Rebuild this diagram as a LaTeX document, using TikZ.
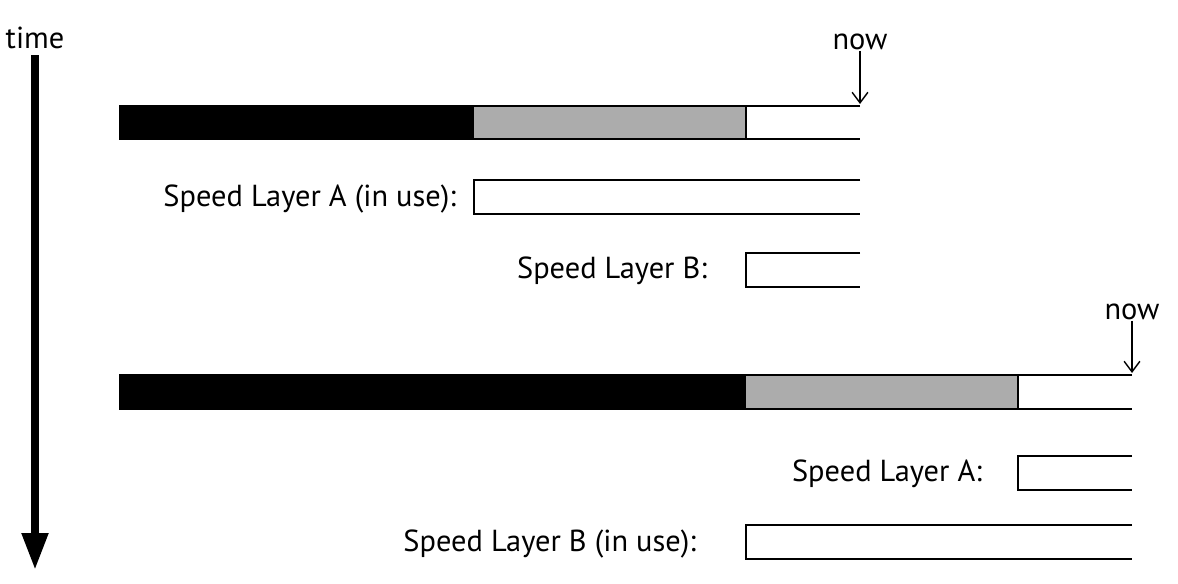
\documentclass[tikz,border=0pt]{standalone}
\usepackage{fontspec}
\setmainfont{PT Sans}
\usepackage{tikz}
\usetikzlibrary{arrows.meta, positioning}
\usepackage{xcolor}
\definecolor{batchgray}{RGB}{172,172,172}

\begin{document}
\begin{tikzpicture}[x=0.02cm, y=-0.02cm, line width=1.1pt,
    lbl/.style={font=\fontsize{17.3}{20}\selectfont, inner sep=0pt},
    nowarrow/.style={line width=0.8pt, -{Straight Barb[length=6pt, width=9pt]}}]
        \useasboundingbox (0,0) rectangle (1178,584);

        % --- Axe du temps ---
        \node[lbl] (time) at (35,38) {time};
        \coordinate (tend) at (35,570);
        \draw[line width=4.5pt, shorten <=3pt, -{Triangle[length=0.74cm, width=0.5cm]}] (time) -- (tend);

        % --- Etat 1 ---
        \fill[black] (120,106) rectangle (474,139);
        \fill[batchgray] (474,106) rectangle (746,139);
        \draw (860,106) -- (120,106) -- (120,139) -- (860,139);
        \draw (746,106) -- (746,139);

        \node[lbl] (now1) at (860,42) {now};
        \coordinate (now1end) at (860,104);
        \draw[nowarrow] (now1) -- (now1end);

        \node[lbl, anchor=east] (slA1) at (457,199) {Speed Layer A (in use):};
        \node[lbl, anchor=east] (slB1) at (708,271) {Speed Layer B:};

        % --- Etat 2 ---
        \fill[black] (120,375) rectangle (746,409);
        \fill[batchgray] (746,375) rectangle (1018,409);
        \draw (1132,375) -- (120,375) -- (120,409) -- (1132,409);
        \draw (1018,375) -- (1018,409);

        \node[lbl] (now2) at (1132,312) {now};
        \coordinate (now2end) at (1132,373);
        \draw[nowarrow] (now2) -- (now2end);

        \node[lbl, anchor=east] (slA2) at (983,474) {Speed Layer A:};
        \node[lbl, anchor=east] (slB2) at (697,544) {Speed Layer B (in use):};

        % --- Couches de vitesse (boites ouvertes a droite) ---
        \foreach \a/\b/\t in {474/860/180, 746/860/253, 1018/1132/456, 746/1132/525} {
            \draw (\b,\t) -- (\a,\t) -- (\a,\t+34) -- (\b,\t+34);
        }
    \end{tikzpicture}
\end{document}
